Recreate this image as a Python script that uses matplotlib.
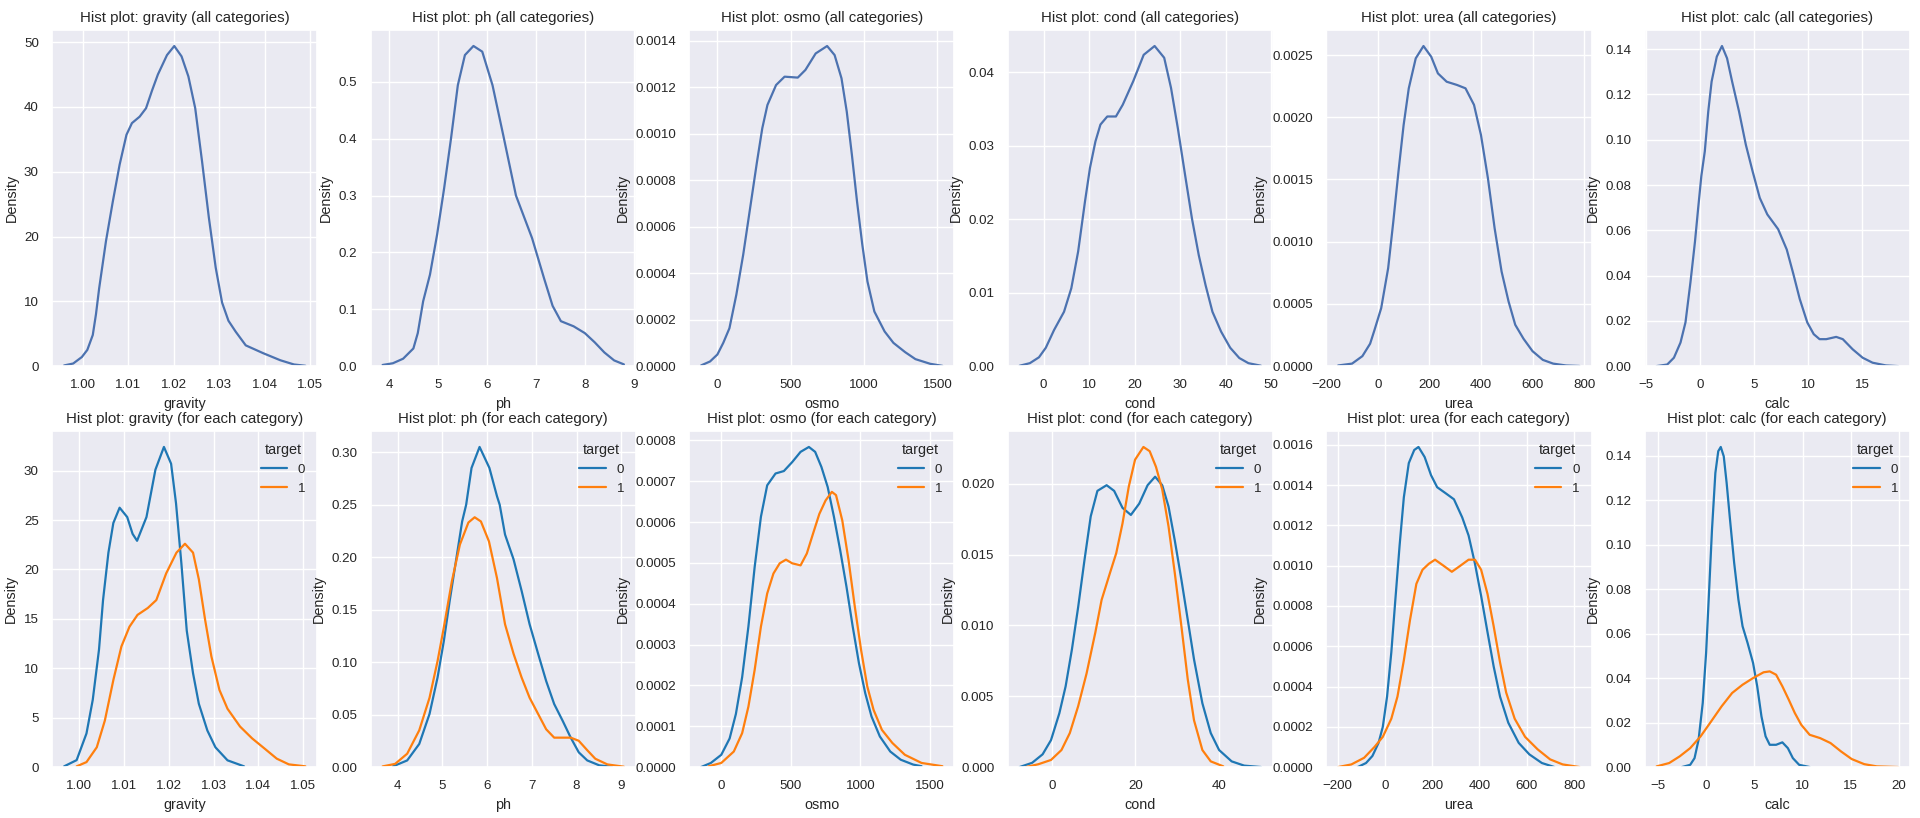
import matplotlib
matplotlib.use("Agg")
import matplotlib.pyplot as plt
import seaborn as sns

# ---- KDE curves (x, density) ----
# top row: all categories
gravity_all_x = [0.9959, 0.9979, 0.9998, 1.0010, 1.0022, 1.0029, 1.0036, 1.0051, 1.0066, 1.0081, 1.0096, 1.0108,
                 1.0125, 1.0139, 1.0152, 1.0165, 1.0185, 1.0201, 1.0217, 1.0232, 1.0247, 1.0262, 1.0277, 1.0292,
                 1.0306, 1.0320, 1.0336, 1.0358, 1.0396, 1.0434, 1.0464, 1.0489]
gravity_all_y = [0.1, 0.4, 1.4, 2.5, 4.8, 8.0, 12.0, 19.3, 25.4, 31.1, 35.7, 37.5,
                 38.5, 39.8, 42.5, 45.0, 48.0, 49.4, 47.8, 44.7, 39.8, 31.6, 22.9, 15.2,
                 9.8, 7.0, 5.3, 3.2, 2.0, 0.9, 0.25, 0.05]

ph_all_x = [3.86, 4.07, 4.28, 4.49, 4.58, 4.69, 4.83, 4.975, 5.12, 5.26, 5.40, 5.545, 5.72, 5.90,
            6.11, 6.33, 6.59, 6.92, 7.17, 7.34, 7.51, 7.77, 8.0, 8.2, 8.4, 8.6, 8.8]
ph_all_y = [0.002, 0.005, 0.013, 0.031, 0.058, 0.114, 0.161, 0.231, 0.313, 0.40, 0.494, 0.547, 0.563, 0.553,
            0.494, 0.406, 0.30, 0.225, 0.153, 0.106, 0.079, 0.070, 0.058, 0.042, 0.024, 0.010, 0.003]

osmo_all_x = [-111, -50, 0, 40, 82, 129, 176, 223, 270, 306, 341, 400, 458, 548, 600, 670, 748, 799,
              846, 882, 917, 952, 988, 1023, 1070, 1140, 1200, 1280, 1350, 1450, 1534]
osmo_all_y = [0.000003, 0.00002, 0.00005, 0.0001, 0.000163, 0.000307, 0.00048, 0.00068, 0.00088, 0.001024,
              0.001124, 0.00121, 0.001246, 0.001242, 0.001275, 0.001346, 0.001378, 0.001339,
              0.001239, 0.001095, 0.000909, 0.000708, 0.000522, 0.000364, 0.000235, 0.000149, 0.0001,
              0.00006, 0.00003, 0.00001, 0.000001]

cond_all_x = [-5.25, -3, -1, 0.5, 2.3, 4.5, 6.1, 7.6, 9.1, 10.2, 11.4, 12.5, 14.0, 15.9, 17.4, 19.7,
              22.0, 24.4, 26.5, 28.0, 29.5, 31.1, 32.6, 34.1, 35.6, 37.1, 39.0, 41, 43, 45, 47.75]
cond_all_y = [0.00005, 0.0004, 0.0012, 0.0025, 0.0049, 0.0074, 0.0106, 0.0156, 0.0224, 0.027, 0.0306,
              0.0329, 0.034, 0.034, 0.0356, 0.0388, 0.0424, 0.0436, 0.042, 0.0379, 0.0324, 0.026,
              0.0201, 0.0151, 0.011, 0.0074, 0.0047, 0.0025, 0.0011, 0.0004, 0.00005]

urea_all_x = [-154, -100, -60, -30, -13, 13, 40, 60, 80, 100, 120, 147, 177, 207, 233, 267, 307, 340,
              373, 400, 427, 453, 480, 507, 533, 565, 600, 640, 680, 730, 782]
urea_all_y = [0.000005, 0.00002, 0.00008, 0.00018, 0.00029, 0.000466, 0.000787, 0.001162, 0.001564,
              0.001938, 0.002233, 0.002474, 0.002573, 0.002487, 0.002353, 0.002286, 0.00226, 0.002233,
              0.0021, 0.001858, 0.00151, 0.001108, 0.00076, 0.00052, 0.000332, 0.00022, 0.00012,
              0.00005, 0.00002, 0.000005, 0.000001]

calc_all_x = [-4.05, -3.07, -2.45, -1.84, -1.38, -0.92, -0.5, -0.2, 0.09, 0.41, 0.73, 1.04, 1.52, 2.0,
              2.47, 2.94, 3.58, 4.21, 4.84, 5.5, 6.2, 7.2, 8.0, 8.6, 9.2, 9.9, 10.5, 11.04, 11.66,
              12.58, 13.19, 14.11, 15.03, 15.95, 17.18, 18.3]
calc_all_y = [0.0, 0.0007, 0.0037, 0.0104, 0.0193, 0.037, 0.055, 0.07, 0.084, 0.0949, 0.1125, 0.1257,
              0.1367, 0.1414, 0.136, 0.1257, 0.1125, 0.0978, 0.086, 0.0743, 0.067, 0.0605, 0.0515,
              0.0409, 0.0297, 0.0193, 0.0141, 0.0119, 0.0119, 0.0129, 0.0119, 0.0074, 0.0037,
              0.0015, 0.0003, 0.0]

# bottom row: target 0 / target 1
gravity_t0_x = [0.9966, 0.9994, 1.0016, 1.0030, 1.0044, 1.0053, 1.0065, 1.0076, 1.0090, 1.0107, 1.0119,
                1.0129, 1.0150, 1.0170, 1.0189, 1.0205, 1.0216, 1.0228, 1.0240, 1.0254, 1.0267, 1.0286,
                1.0304, 1.0331, 1.0368]
gravity_t0_y = [0.07, 0.7, 3.4, 6.8, 11.9, 16.9, 21.7, 24.7, 26.25, 25.3, 23.6,
                22.9, 25.3, 30.1, 32.4, 30.7, 26.7, 20.6, 13.8, 9.5, 6.4, 3.7,
                2.0, 0.68, 0.07]
gravity_t1_x = [0.9994, 1.0016, 1.0039, 1.0057, 1.0076, 1.0094, 1.0112, 1.0130, 1.0153, 1.0172, 1.0194,
                1.0217, 1.0236, 1.0254, 1.0267, 1.0281, 1.0295, 1.0313, 1.0331, 1.0359, 1.0386, 1.0413,
                1.0441, 1.0468, 1.0505]
gravity_t1_y = [0.07, 0.5, 2.0, 4.7, 8.8, 12.2, 14.2, 15.4, 16.1, 16.9, 19.6,
                21.7, 22.6, 21.7, 19.0, 14.9, 11.2, 7.8, 5.9, 4.1, 2.9, 1.9,
                0.85, 0.27, 0.07]

ph_t0_x = [3.89, 4.21, 4.48, 4.71, 4.89, 5.03, 5.16, 5.30, 5.44, 5.53, 5.65, 5.83, 6.05, 6.22, 6.28,
           6.40, 6.59, 6.77, 6.95, 7.14, 7.32, 7.50, 7.69, 7.87, 8.05, 8.24, 8.51, 8.79]
ph_t0_y = [0.0006, 0.0063, 0.022, 0.0506, 0.0854, 0.12, 0.158, 0.196, 0.234, 0.25, 0.285, 0.305, 0.285,
           0.258, 0.25, 0.2215, 0.198, 0.168, 0.136, 0.108, 0.082, 0.060, 0.044, 0.028, 0.014,
           0.0063, 0.0016, 0.0003]
ph_t1_x = [3.66, 3.94, 4.21, 4.48, 4.71, 4.89, 5.03, 5.21, 5.39, 5.58, 5.72, 5.86, 6.04, 6.22, 6.40,
           6.59, 6.77, 6.95, 7.14, 7.32, 7.50, 7.69, 7.87, 8.05, 8.24, 8.42, 8.69, 9.06]
ph_t1_y = [0.0006, 0.003, 0.0127, 0.035, 0.066, 0.101, 0.133, 0.177, 0.212, 0.233, 0.238, 0.234, 0.215,
           0.18, 0.136, 0.108, 0.0854, 0.066, 0.0506, 0.036, 0.028, 0.028, 0.028, 0.025, 0.016,
           0.0079, 0.0025, 0.0003]

osmo_t0_x = [-145, -75, 0, 60, 105, 150, 195, 240, 285, 330, 390, 450, 510, 570, 630, 675, 720, 765,
             810, 855, 900, 945, 990, 1035, 1080, 1140, 1215, 1290, 1380, 1440]
osmo_t0_y = [0.0, 0.00001, 0.00003, 0.00007, 0.00013, 0.00022, 0.000344, 0.00049, 0.000613, 0.00069,
             0.000719, 0.000725, 0.000747, 0.000772, 0.000784, 0.000772, 0.000735, 0.000686, 0.000613,
             0.000531, 0.000442, 0.000344, 0.000254, 0.000181, 0.000124, 0.000075, 0.000038,
             0.000018, 0.000006, 0.000002]
osmo_t1_x = [-90, 0, 90, 150, 195, 240, 285, 330, 375, 420, 465, 510, 570, 615, 660, 705, 750, 795,
             825, 870, 915, 960, 1005, 1050, 1095, 1155, 1230, 1320, 1440, 1590]
osmo_t1_y = [0.000002, 0.00001, 0.000038, 0.000083, 0.000148, 0.000238, 0.000344, 0.000425, 0.000474,
             0.000499, 0.000508, 0.000499, 0.000494, 0.000523, 0.000572, 0.00062, 0.000653, 0.000674,
             0.000666, 0.000604, 0.000507, 0.000393, 0.000287, 0.000197, 0.00014, 0.000091,
             0.000059, 0.00003, 0.00001, 0.000002]

cond_t0_x = [-7.7, -4.7, -2.2, -0.2, 1.8, 3.3, 4.8, 6.3, 7.8, 9.3, 10.9, 13.1, 14.9, 16.9, 18.9, 20.9,
             22.9, 24.7, 26.4, 27.9, 29.4, 31.0, 32.5, 34.0, 36.0, 38.0, 40.0, 43.0, 46.0, 50.0]
cond_t0_y = [0.0, 0.0003, 0.0009, 0.0019, 0.0038, 0.0057, 0.0083, 0.0113, 0.0146, 0.0177, 0.0195,
             0.0199, 0.0195, 0.0183, 0.0178, 0.0186, 0.0199, 0.0205, 0.0199, 0.0184, 0.016, 0.0132,
             0.0104, 0.0076, 0.0045, 0.0024, 0.0012, 0.0004, 0.0001, 0.0]
cond_t1_x = [-6.2, -3.2, -0.2, 2.3, 4.3, 6.3, 8.3, 10.4, 11.9, 13.9, 15.4, 16.9, 18.4, 19.9, 21.9, 23.4,
             24.9, 26.4, 27.9, 29.4, 31.0, 32.5, 34.0, 36.0, 38.0, 41.0]
cond_t1_y = [0.0, 0.0002, 0.0005, 0.0012, 0.0024, 0.0043, 0.0066, 0.0095, 0.0118, 0.0137, 0.0151, 0.0172,
             0.0198, 0.0217, 0.0226, 0.0223, 0.0212, 0.0196, 0.017, 0.0137, 0.0099, 0.0062, 0.0033,
             0.0012, 0.0004, 0.00005]

urea_t0_x = [-115, -80, -53, -27, -9, 9, 27, 44, 62, 80, 101, 124, 142, 168, 195, 221, 257, 292, 327,
             354, 381, 407, 434, 460, 487, 522, 566, 611, 664, 717]
urea_t0_y = [0.0, 0.00002, 0.000055, 0.00012, 0.0002, 0.00035, 0.00057, 0.00083, 0.0011, 0.00134,
             0.00151, 0.001575, 0.00159, 0.00154, 0.00145, 0.00139, 0.00136, 0.00133, 0.00124, 0.00115,
             0.00101, 0.00085, 0.00067, 0.0005, 0.00035, 0.00022, 0.00012, 0.000063, 0.00002, 0.0]
urea_t1_x = [-198, -142, -88, -44, -9, 27, 53, 80, 106, 133, 159, 186, 212, 248, 283, 319, 354, 381,
             407, 434, 460, 487, 513, 549, 593, 646, 699, 752, 823]
urea_t1_y = [0.0, 0.000013, 0.000046, 0.0001, 0.00015, 0.00024, 0.00035, 0.00053, 0.00073, 0.00091,
             0.00098, 0.00101, 0.00103, 0.001, 0.00097, 0.001, 0.00103, 0.00103, 0.00098, 0.00086,
             0.0007, 0.00052, 0.00037, 0.00024, 0.00015, 0.000088, 0.000038, 0.000013, 0.0]

calc_t0_x = [-2.5, -1.65, -1.2, -0.78, -0.35, 0.0, 0.3, 0.61, 0.96, 1.26, 1.52, 1.83, 2.13, 2.48, 2.91,
             3.35, 3.78, 4.3, 4.87, 5.3, 5.74, 6.17, 6.6, 7.26, 7.91, 8.48, 9.0, 9.65, 10.74]
calc_t0_y = [0.0, 0.001, 0.004, 0.0123, 0.0288, 0.0513, 0.0783, 0.1067, 0.1322, 0.142, 0.1439, 0.1397,
             0.1277, 0.1112, 0.0918, 0.0753, 0.0633, 0.0558, 0.0468, 0.0363, 0.0228, 0.0138, 0.0100,
             0.0100, 0.0111, 0.0085, 0.0040, 0.0010, 0.0]
calc_t1_x = [-5.13, -3.83, -2.74, -1.65, -0.57, 0.52, 1.61, 2.7, 3.78, 4.87, 5.96, 6.6, 7.26, 7.91,
             8.57, 9.2, 9.87, 10.74, 11.83, 12.9, 14.0, 15.1, 16.4, 17.7, 19.9]
calc_t1_y = [0.0003, 0.0018, 0.0048, 0.0085, 0.0138, 0.0205, 0.0273, 0.0333, 0.037, 0.04, 0.0426,
             0.043, 0.0415, 0.0363, 0.0303, 0.0243, 0.019, 0.0145, 0.013, 0.0108, 0.007, 0.0036,
             0.0013, 0.0003, 0.0]

features = ["gravity", "ph", "osmo", "cond", "urea", "calc"]
targets = ["0", "1"]

all_curves = {
    "gravity": (gravity_all_x, gravity_all_y),
    "ph": (ph_all_x, ph_all_y),
    "osmo": (osmo_all_x, osmo_all_y),
    "cond": (cond_all_x, cond_all_y),
    "urea": (urea_all_x, urea_all_y),
    "calc": (calc_all_x, calc_all_y),
}
target_curves = {
    "gravity": [(gravity_t0_x, gravity_t0_y), (gravity_t1_x, gravity_t1_y)],
    "ph": [(ph_t0_x, ph_t0_y), (ph_t1_x, ph_t1_y)],
    "osmo": [(osmo_t0_x, osmo_t0_y), (osmo_t1_x, osmo_t1_y)],
    "cond": [(cond_t0_x, cond_t0_y), (cond_t1_x, cond_t1_y)],
    "urea": [(urea_t0_x, urea_t0_y), (urea_t1_x, urea_t1_y)],
    "calc": [(calc_t0_x, calc_t0_y), (calc_t1_x, calc_t1_y)],
}

sns.set_theme(style="darkgrid")
plt.rcParams["font.family"] = ["Liberation Sans", "DejaVu Sans"]
plt.rcParams["xtick.labelsize"] = 9.6
plt.rcParams["ytick.labelsize"] = 9.6
plt.rcParams["axes.labelsize"] = 10.4
plt.rcParams["axes.titlesize"] = 10.8

fig, axes = plt.subplots(2, 6, figsize=(19.2, 8.18), dpi=100)
fig.subplots_adjust(left=0.0271, right=0.9948, top=0.9633, bottom=0.0623,
                    wspace=0.2, hspace=0.193)

hue_colors = ["#1f77b4", "#ff7f0e"]

for i, feat in enumerate(features):
    ax = axes[0, i]
    x, y = all_curves[feat]
    ax.plot(x, y, color="#4c72b0", lw=1.6)
    ax.set_ylim(0, ax.get_ylim()[1])
    ax.set_title(f"Hist plot: {feat} (all categories)")
    ax.set_xlabel(feat)
    ax.set_ylabel("Density")

    ax = axes[1, i]
    for (x, y), lab, c in zip(target_curves[feat], targets, hue_colors):
        ax.plot(x, y, color=c, lw=1.6, label=lab)
    ax.set_ylim(0, ax.get_ylim()[1])
    ax.set_title(f"Hist plot: {feat} (for each category)")
    ax.set_xlabel(feat)
    ax.set_ylabel("Density")
    ax.legend(title="target", loc="upper right", frameon=False, fontsize=9.6, title_fontsize=10.4)

fig.savefig("out.png", dpi=100, facecolor="white")
